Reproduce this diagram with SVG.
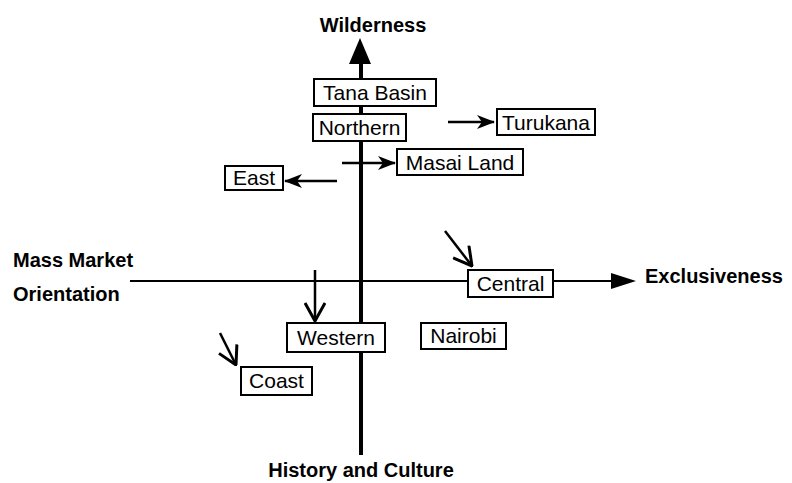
<svg xmlns="http://www.w3.org/2000/svg" width="792" height="483" viewBox="0 0 792 483">
<defs>
<style>
.box{fill:#fff;stroke:#000;stroke-width:2}
.lbl{font-family:"Liberation Sans",Arial,sans-serif;font-size:21px;fill:#000;text-anchor:middle}
.axis{font-family:"Liberation Sans",Arial,sans-serif;font-size:20px;font-weight:bold;fill:#000}
.arr{stroke:#000;stroke-width:2.5;fill:none}
</style>
<marker id="barb" viewBox="0 0 18 14" refX="17" refY="7" markerWidth="18" markerHeight="14" markerUnits="userSpaceOnUse" orient="auto">
<path d="M0,0 L18,7 L0,14 L5,7 Z" fill="#000"/>
</marker>
<marker id="vee" viewBox="0 0 20 22" refX="19" refY="11" markerWidth="20" markerHeight="22" markerUnits="userSpaceOnUse" orient="auto">
<path d="M1,1 L19,11 L1,21" fill="none" stroke="#000" stroke-width="3"/>
</marker>
</defs>
<rect width="792" height="483" fill="#fff"/>
<g id="connectors">
<line x1="361" y1="60" x2="361" y2="455" stroke="#000" stroke-width="4"/>
<polygon points="360,38 349,64 371,64" fill="#000"/>
<line x1="130" y1="281" x2="614" y2="281" stroke="#000" stroke-width="2"/>
<polygon points="611,273 636,281 611,289" fill="#000"/>
<line class="arr" x1="448" y1="122" x2="494" y2="122" marker-end="url(#barb)"/>
<line class="arr" x1="342" y1="163" x2="395" y2="163" marker-end="url(#barb)"/>
<line class="arr" x1="337" y1="181" x2="285" y2="181" marker-end="url(#barb)"/>
<line class="arr" x1="315" y1="270" x2="315" y2="321" marker-end="url(#vee)"/>
<line class="arr" x1="445" y1="231" x2="472" y2="266" marker-end="url(#vee)"/>
<line class="arr" x1="220" y1="333" x2="236" y2="365" marker-end="url(#vee)"/>
</g>
<g id="axis-labels">
<text class="axis" x="373" y="32" text-anchor="middle">Wilderness</text>
<text class="axis" x="13" y="267">Mass Market</text>
<text class="axis" x="13" y="301">Orientation</text>
<text class="axis" x="645" y="283">Exclusiveness</text>
<text class="axis" x="361" y="477" text-anchor="middle">History and Culture</text>
</g>
<g id="tana-basin"><rect class="box" x="314" y="79" width="122" height="27"/><text class="lbl" x="375" y="100">Tana Basin</text></g>
<g id="northern"><rect class="box" x="313" y="114" width="93" height="27"/><text class="lbl" x="359.5" y="135">Northern</text></g>
<g id="turukana"><rect class="box" x="497" y="109" width="98" height="26"/><text class="lbl" x="546" y="130">Turukana</text></g>
<g id="masai-land"><rect class="box" x="397" y="149" width="126" height="26"/><text class="lbl" x="460" y="170">Masai Land</text></g>
<g id="east"><rect class="box" x="225" y="166" width="58" height="24"/><text class="lbl" x="254" y="185">East</text></g>
<g id="central"><rect class="box" x="468" y="270" width="85" height="27"/><text class="lbl" x="510.5" y="291">Central</text></g>
<g id="western"><rect class="box" x="287" y="323" width="98" height="29"/><text class="lbl" x="336" y="345">Western</text></g>
<g id="nairobi"><rect class="box" x="421" y="323" width="85" height="26"/><text class="lbl" x="463.5" y="343">Nairobi</text></g>
<g id="coast"><rect class="box" x="241" y="367" width="71" height="28"/><text class="lbl" x="276.5" y="388">Coast</text></g>
</svg>
